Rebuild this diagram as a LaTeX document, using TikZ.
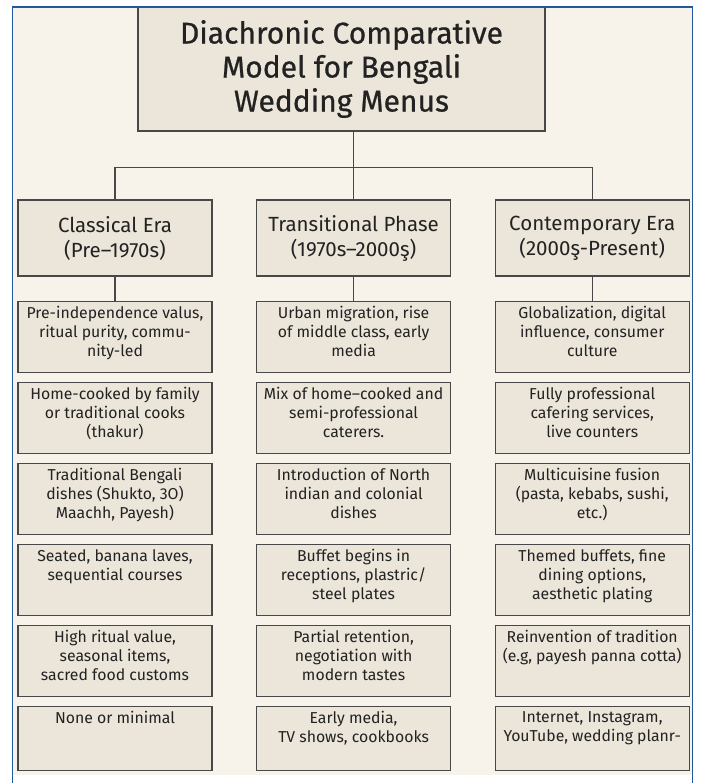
\documentclass[tikz,border=0pt]{standalone}
\usepackage{fontspec}
\setmainfont{Fira Sans}
\newfontfamily\titlefont{Fira Sans}[FakeBold=0.7]
\usetikzlibrary{positioning}
\definecolor{menuframe}{RGB}{31,90,160}
\definecolor{menupaper}{RGB}{247,243,234}
\definecolor{menubox}{RGB}{236,230,218}
\definecolor{menuline}{RGB}{72,72,72}
\definecolor{menuink}{RGB}{34,34,34}
\newcommand{\celltext}[2][61pt]{\parbox[c][#1][t]{192pt}{\centering #2}}

\begin{document}
\begin{tikzpicture}[x=1pt,y=1pt,node distance=9pt and 43.5pt,title/.style={draw=menuline,fill=menubox,line width=1.1pt,minimum width=407pt,minimum height=124pt,align=center,text=menuink,font=\titlefont\fontsize{30pt}{34pt}\selectfont},era/.style={draw=menuline,fill=menubox,line width=1.1pt,minimum width=194pt,minimum height=76pt,align=center,text=menuink,font=\fontsize{20.5pt}{25pt}\selectfont},cell/.style={draw=menuline,fill=menubox,line width=1.1pt,minimum width=194pt,inner xsep=1pt,inner ysep=5pt,text=menuink,font=\fontsize{15.8pt}{19pt}\selectfont},link/.style={draw=menuline,line width=1.1pt}]
\useasboundingbox (0,0) rectangle (701,-783);
\fill[white] (0,0) rectangle (701,-783);
\fill[menupaper] (12.5,-7) rectangle (692.5,-775);
\node[title] (T) at (341.5,-69) {Diachronic Comparative\\Model for Bengali\\Wedding Menus};
\node[era] (CL) at (115,-238) {Classical Era\\(Pre–1970s)};
\node[era,right=of CL] (TR) {Transitional Phase\\(1970s–2000ş)};
\node[era,right=of TR] (CO) {Contemporary Era\\(2000ş-Present)};
% classical era column
\node[cell,below=24pt of CL] (CL1) {\celltext{Pre-independence valus,\\ritual purity, commu-\\nity-led}};
\node[cell,below=of CL1] (CL2) {\celltext{Home-cooked by family\\or traditional cooks\\(thakur)}};
\node[cell,below=of CL2] (CL3) {\celltext{Traditional Bengali\\dishes (Shukto, 3O)\\Maachh, Payesh)}};
\node[cell,below=of CL3] (CL4) {\celltext{Seated, banana laves,\\sequential courses}};
\node[cell,below=of CL4] (CL5) {\celltext{High ritual value,\\seasonal items,\\sacred food customs}};
\node[cell,below=of CL5] (CL6) {\celltext[54pt]{None or minimal}};
% transitional phase column
\node[cell,below=24pt of TR] (TR1) {\celltext{Urban migration, rise\\of middle class, early\\media}};
\node[cell,below=of TR1] (TR2) {\celltext{Mix of home–cooked and\\semi-professional\\caterers.}};
\node[cell,below=of TR2] (TR3) {\celltext{Introduction of North\\indian and colonial\\dishes}};
\node[cell,below=of TR3] (TR4) {\celltext{Buffet begins in\\receptions, plastric/\\steel plates}};
\node[cell,below=of TR4] (TR5) {\celltext{Partial retention,\\negotiation with\\modern tastes}};
\node[cell,below=of TR5] (TR6) {\celltext[54pt]{Early media,\\TV shows, cookbooks}};
% contemporary era column
\node[cell,below=24pt of CO] (CO1) {\celltext{Globalization, digital\\influence, consumer\\culture}};
\node[cell,below=of CO1] (CO2) {\celltext{Fully professional\\cafering services,\\live counters}};
\node[cell,below=of CO2] (CO3) {\celltext{Multicuisine fusion\\(pasta, kebabs, sushi,\\etc.)}};
\node[cell,below=of CO3] (CO4) {\celltext{Themed buffets, fine\\dining options,\\aesthetic plating}};
\node[cell,below=of CO4] (CO5) {\celltext{Reinvention of tradition\\(e.g, payesh panna cotta)}};
\node[cell,below=of CO5] (CO6) {\celltext[54pt]{Internet, Instagram,\\YouTube, wedding planr-}};
\draw[link] (T.south -| TR.north) -- (TR.north);
\draw[link] (T.south -| TR.north) -- ++(0,-36) -| (CL.north);
\draw[link] (T.south -| TR.north) -- ++(0,-36) -| (CO.north);
\foreach \x in {CL,TR,CO}{\draw[link] (\x.south) -- (\x1.north);}
\draw[menuframe,line width=1.5pt] (12.5,-783) |- (692.5,-7) -- (692.5,-783);
\end{tikzpicture}
\end{document}
